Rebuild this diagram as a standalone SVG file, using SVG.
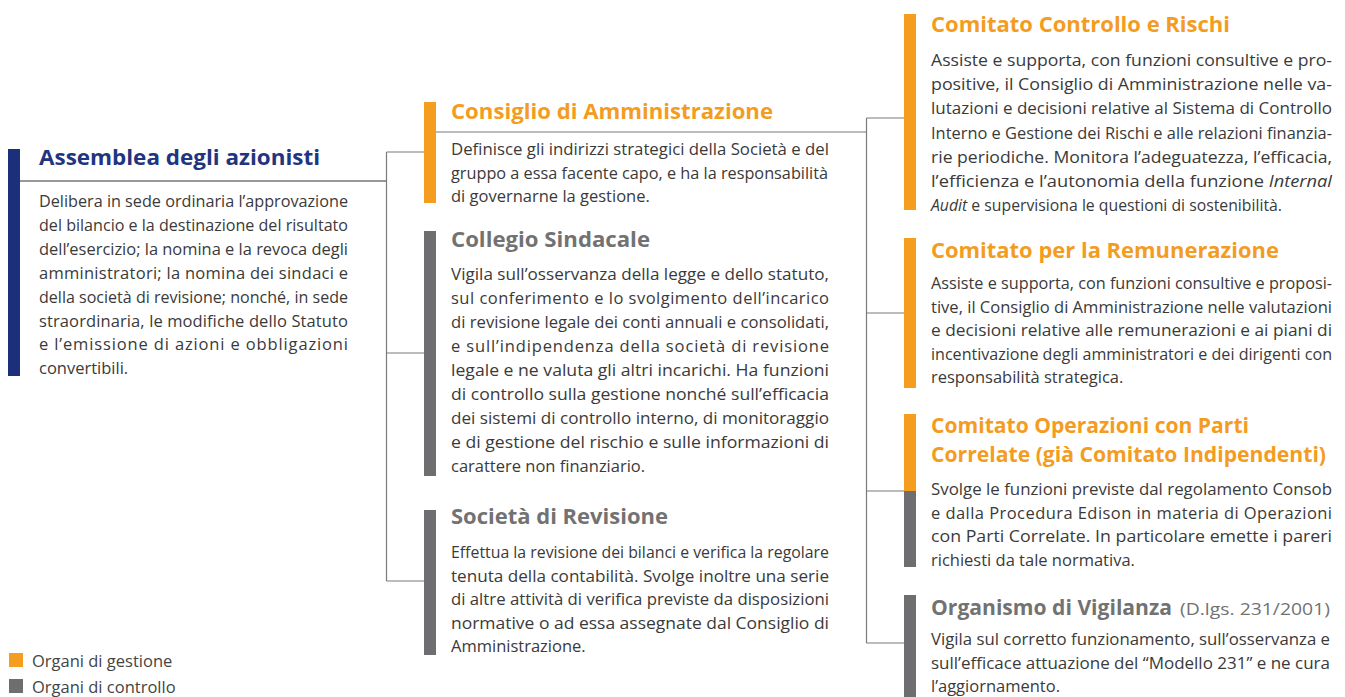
<svg xmlns="http://www.w3.org/2000/svg" width="1345" height="697" viewBox="0 0 1345 697">
<style>
.t{font-family:"Open Sans",Lato,"Liberation Sans",sans-serif;font-weight:700;font-size:20.5px}
.b{font-family:"Open Sans",Lato,"Liberation Sans",sans-serif;font-size:16.5px;fill:#3a3a3a}
.blue{fill:#1f3580}.or{fill:#f39c1f}.gr{fill:#727272}
.bo{fill:#f59d1e}.bg{fill:#6e6e70}.bb{fill:#1c2f7a}
.c{stroke:#7a7a7a;stroke-width:1.2;fill:none}
.cd{stroke:#333;stroke-width:1.2;fill:none}
</style>
<rect width="1345" height="697" fill="#fff"/>
<g id="connectors">
<line class="cd" x1="20" y1="181" x2="386.5" y2="181"/>
<line class="c" x1="386.5" y1="152" x2="386.5" y2="581"/>
<line class="c" x1="386.5" y1="152" x2="424" y2="152"/>
<line class="c" x1="386.5" y1="353" x2="424" y2="353"/>
<line class="c" x1="386.5" y1="581" x2="424" y2="581"/>
<line class="c" x1="436" y1="132" x2="866.5" y2="132"/>
<line class="c" x1="866.5" y1="118" x2="866.5" y2="643"/>
<line class="c" x1="866.5" y1="118" x2="904" y2="118"/>
<line class="c" x1="866.5" y1="313" x2="904" y2="313"/>
<line class="c" x1="866.5" y1="491" x2="904" y2="491"/>
<line class="c" x1="866.5" y1="643" x2="904" y2="643"/>
</g>
<g id="assemblea">
<rect class="bb" x="8" y="149" width="12" height="227"/>
<text class="t blue" x="39" y="165" textLength="281" lengthAdjust="spacingAndGlyphs">Assemblea degli azionisti</text>
<g class="b">
<text x="39" y="207" textLength="309" lengthAdjust="spacingAndGlyphs">Delibera in sede ordinaria l’approvazione</text>
<text x="39" y="230.9" textLength="309" lengthAdjust="spacingAndGlyphs">del bilancio e la destinazione del risultato</text>
<text x="39" y="254.8" textLength="309" lengthAdjust="spacingAndGlyphs">dell’esercizio; la nomina e la revoca degli</text>
<text x="39" y="278.7" textLength="309">amministratori; la nomina dei sindaci e</text>
<text x="39" y="302.6" textLength="309" lengthAdjust="spacingAndGlyphs">della società di revisione; nonché, in sede</text>
<text x="39" y="326.5" textLength="309">straordinaria, le modifiche dello Statuto</text>
<text x="39" y="350.4" textLength="309">e l’emissione di azioni e obbligazioni</text>
<text x="39" y="374.3">convertibili.</text>
</g>
</g>
<g id="consiglio">
<rect class="bo" x="424" y="102" width="12" height="101"/>
<text class="t or" x="451" y="119" textLength="322" lengthAdjust="spacingAndGlyphs">Consiglio di Amministrazione</text>
<g class="b">
<text x="451" y="155" textLength="378" lengthAdjust="spacingAndGlyphs">Definisce gli indirizzi strategici della Società e del</text>
<text x="451" y="178.5" textLength="377" lengthAdjust="spacingAndGlyphs">gruppo a essa facente capo, e ha la responsabilità</text>
<text x="451" y="202">di governarne la gestione.</text>
</g>
</g>
<g id="collegio">
<rect class="bg" x="424" y="231" width="12" height="245"/>
<text class="t gr" x="451" y="247" textLength="199" lengthAdjust="spacingAndGlyphs">Collegio Sindacale</text>
<g class="b">
<text x="451" y="280" textLength="378" lengthAdjust="spacingAndGlyphs">Vigila sull’osservanza della legge e dello statuto,</text>
<text x="451" y="304" textLength="378">sul conferimento e lo svolgimento dell’incarico</text>
<text x="451" y="328" textLength="378" lengthAdjust="spacingAndGlyphs">di revisione legale dei conti annuali e consolidati,</text>
<text x="451" y="352" textLength="378">e sull’indipendenza della società di revisione</text>
<text x="451" y="376" textLength="378" lengthAdjust="spacingAndGlyphs">legale e ne valuta gli altri incarichi. Ha funzioni</text>
<text x="451" y="400" textLength="378" lengthAdjust="spacingAndGlyphs">di controllo sulla gestione nonché sull’efficacia</text>
<text x="451" y="424" textLength="378" lengthAdjust="spacingAndGlyphs">dei sistemi di controllo interno, di monitoraggio</text>
<text x="451" y="448" textLength="378" lengthAdjust="spacingAndGlyphs">e di gestione del rischio e sulle informazioni di</text>
<text x="451" y="472">carattere non finanziario.</text>
</g>
</g>
<g id="societa">
<rect class="bg" x="424" y="510" width="12" height="145"/>
<text class="t gr" x="451" y="524" textLength="217" lengthAdjust="spacingAndGlyphs">Società di Revisione</text>
<g class="b">
<text x="451" y="558" textLength="378" lengthAdjust="spacingAndGlyphs">Effettua la revisione dei bilanci e verifica la regolare</text>
<text x="451" y="581.5" textLength="378" lengthAdjust="spacingAndGlyphs">tenuta della contabilità. Svolge inoltre una serie</text>
<text x="451" y="605" textLength="378" lengthAdjust="spacingAndGlyphs">di altre attività di verifica previste da disposizioni</text>
<text x="451" y="628.5" textLength="378" lengthAdjust="spacingAndGlyphs">normative o ad essa assegnate dal Consiglio di</text>
<text x="451" y="652">Amministrazione.</text>
</g>
</g>
<g id="comitato-controllo-rischi">
<rect class="bo" x="904" y="14" width="12" height="196"/>
<text class="t or" x="931" y="32" textLength="299" lengthAdjust="spacingAndGlyphs">Comitato Controllo e Rischi</text>
<g class="b">
<text x="931" y="66" textLength="401" lengthAdjust="spacingAndGlyphs">Assiste e supporta, con funzioni consultive e pro-</text>
<text x="931" y="90.2" textLength="401" lengthAdjust="spacingAndGlyphs">positive, il Consiglio di Amministrazione nelle va-</text>
<text x="931" y="114.4" textLength="401" lengthAdjust="spacingAndGlyphs">lutazioni e decisioni relative al Sistema di Controllo</text>
<text x="931" y="138.6" textLength="401" lengthAdjust="spacingAndGlyphs">Interno e Gestione dei Rischi e alle relazioni finanzia-</text>
<text x="931" y="162.8" textLength="401" lengthAdjust="spacingAndGlyphs">rie periodiche. Monitora l’adeguatezza, l’efficacia,</text>
<text x="931" y="187" textLength="401" lengthAdjust="spacingAndGlyphs">l’efficienza e l’autonomia della funzione <tspan font-style="italic">Internal</tspan></text>
<text x="931" y="211.2" textLength="351" lengthAdjust="spacingAndGlyphs"><tspan font-style="italic">Audit</tspan> e supervisiona le questioni di sostenibilità.</text>
</g>
</g>
<g id="comitato-remunerazione">
<rect class="bo" x="904" y="238" width="12" height="150"/>
<text class="t or" x="931" y="258" textLength="348" lengthAdjust="spacingAndGlyphs">Comitato per la Remunerazione</text>
<g class="b">
<text x="931" y="289" textLength="401" lengthAdjust="spacingAndGlyphs">Assiste e supporta, con funzioni consultive e proposi-</text>
<text x="931" y="312.5" textLength="401" lengthAdjust="spacingAndGlyphs">tive, il Consiglio di Amministrazione nelle valutazioni</text>
<text x="931" y="336" textLength="401" lengthAdjust="spacingAndGlyphs">e decisioni relative alle remunerazioni e ai piani di</text>
<text x="931" y="359.5" textLength="401" lengthAdjust="spacingAndGlyphs">incentivazione degli amministratori e dei dirigenti con</text>
<text x="931" y="383">responsabilità strategica.</text>
</g>
</g>
<g id="comitato-parti-correlate">
<rect class="bo" x="904" y="414" width="12" height="77"/>
<rect class="bg" x="904" y="491" width="12" height="76"/>
<text class="t or" x="931" y="433" textLength="318" lengthAdjust="spacingAndGlyphs">Comitato Operazioni con Parti</text>
<text class="t or" x="931" y="462" textLength="395" lengthAdjust="spacingAndGlyphs">Correlate (già Comitato Indipendenti)</text>
<g class="b">
<text x="931" y="495" textLength="401" lengthAdjust="spacingAndGlyphs">Svolge le funzioni previste dal regolamento Consob</text>
<text x="931" y="518.5" textLength="401">e dalla Procedura Edison in materia di Operazioni</text>
<text x="931" y="542" textLength="401" lengthAdjust="spacingAndGlyphs">con Parti Correlate. In particolare emette i pareri</text>
<text x="931" y="565.5">richiesti da tale normativa.</text>
</g>
</g>
<g id="organismo-vigilanza">
<rect class="bg" x="904" y="595" width="12" height="102"/>
<text class="t gr" x="931" y="615" textLength="241" lengthAdjust="spacingAndGlyphs">Organismo di Vigilanza</text>
<text x="1180" y="615" textLength="150" lengthAdjust="spacingAndGlyphs" style="font-family:'Open Sans',Lato,'Liberation Sans',sans-serif;font-size:16.5px;fill:#727272">(D.lgs. 231/2001)</text>
<g class="b">
<text x="931" y="645" textLength="399" lengthAdjust="spacingAndGlyphs">Vigila sul corretto funzionamento, sull’osservanza e</text>
<text x="931" y="668.5" textLength="399" lengthAdjust="spacingAndGlyphs">sull’efficace attuazione del “Modello 231” e ne cura</text>
<text x="931" y="692">l’aggiornamento.</text>
</g>
</g>
<g id="legend">
<rect class="bo" x="9" y="653" width="14" height="14"/>
<text class="b" x="32" y="667" style="fill:#444">Organi di gestione</text>
<rect class="bg" x="9" y="679" width="14" height="14"/>
<text class="b" x="32" y="693" style="fill:#444">Organi di controllo</text>
</g>
</svg>
